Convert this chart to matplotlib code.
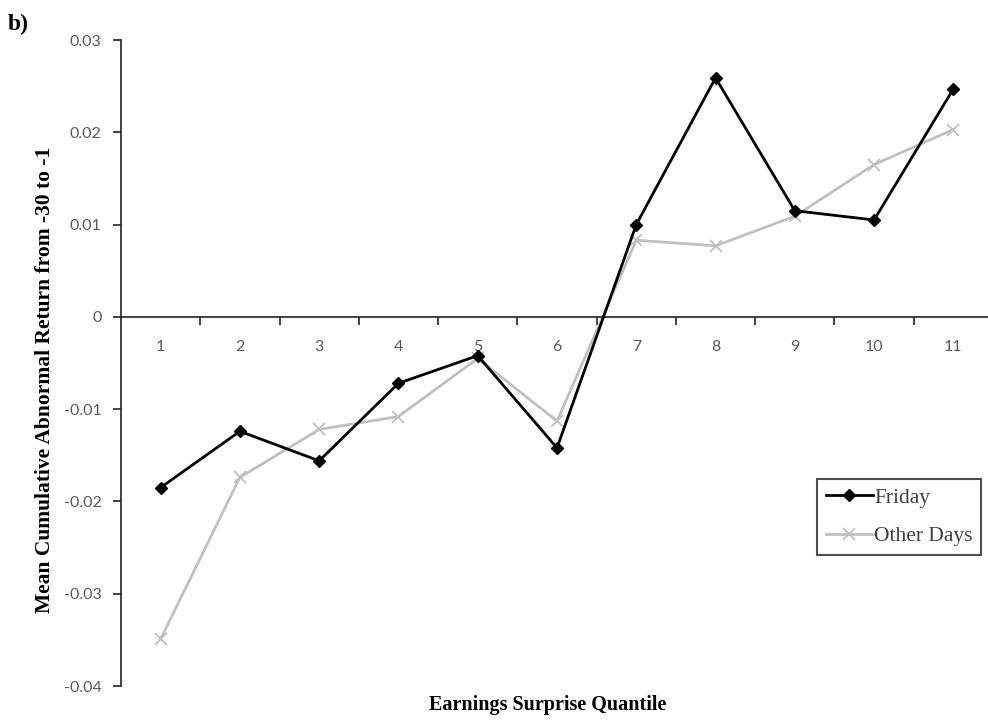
import matplotlib
matplotlib.use("Agg")
import matplotlib.pyplot as plt
from matplotlib.ticker import FixedLocator, NullFormatter, FixedFormatter

quantiles = [1, 2, 3, 4, 5, 6, 7, 8, 9, 10, 11]
friday = [-0.0185, -0.0124, -0.0156, -0.0072, -0.0042, -0.0142, 0.0100, 0.0259, 0.0115, 0.0105, 0.0247]
other_days = [-0.0349, -0.0174, -0.0122, -0.0108, -0.0045, -0.0113, 0.0083, 0.0077, 0.0109, 0.0165, 0.0203]
yticks = [-0.04, -0.03, -0.02, -0.01, 0, 0.01, 0.02, 0.03]
ytick_labels = ["-0.04", "-0.03", "-0.02", "-0.01", "0", "0.01", "0.02", "0.03"]

W, H = 988, 722
fig = plt.figure(figsize=(W / 100, H / 100), dpi=100)
ax = fig.add_axes([121 / W, (H - 686) / H, 872 / W, 646 / H])

ax.plot(quantiles, friday, color="black", lw=2.0, marker="D", ms=6,
        mfc="black", mec="black", label="Friday", zorder=3)
ax.plot(quantiles, other_days, color="#c0c0c0", lw=2.0, marker="x", ms=8,
        mew=1.3, label="Other Days", zorder=2)

ax.set_xlim(0.5, 11.5)
ax.set_ylim(-0.04, 0.03)

for s in ["top", "right"]:
    ax.spines[s].set_visible(False)
ax.spines["bottom"].set_position(("data", 0))
ax.spines["bottom"].set_color("#222222")
ax.spines["left"].set_color("#222222")
ax.spines["bottom"].set_linewidth(1.2)
ax.spines["left"].set_linewidth(1.2)

ax.xaxis.set_major_locator(FixedLocator([q + 0.5 for q in quantiles[:-1]]))
ax.xaxis.set_major_formatter(NullFormatter())
ax.xaxis.set_minor_locator(FixedLocator(quantiles))
ax.xaxis.set_minor_formatter(FixedFormatter([str(q) for q in quantiles]))
ax.tick_params(axis="x", which="major", direction="out", length=6, width=1.2, color="#222222")
ax.tick_params(axis="x", which="minor", length=0, pad=17, labelsize=11.5, labelcolor="#595959")

ax.set_yticks(yticks)
ax.set_yticklabels(ytick_labels)
ax.tick_params(axis="y", direction="out", length=6, width=1.2, color="#222222",
               pad=8, labelsize=11.5, labelcolor="#595959")
for lab in ax.get_xticklabels(minor=True) + ax.get_yticklabels():
    lab.set_fontfamily("Lato")

fig.text(45 / W, 1 - 380 / H, "Mean Cumulative Abnormal Return from -30 to -1",
         rotation=90, ha="center", va="center", fontsize=15.5, fontweight="bold",
         family="Liberation Serif")
fig.text(548 / W, 1 - 705 / H, "Earnings Surprise Quantile", ha="center", va="center",
         fontsize=14.5, fontweight="bold", family="Liberation Serif")
fig.text(8 / W, 1 - 24 / H, "b)", ha="left", va="center", fontsize=17,
         fontweight="bold", family="Liberation Serif")

leg = ax.legend(loc="upper left", bbox_to_anchor=(817 / W, 1 - 479 / H),
                bbox_transform=fig.transFigure, frameon=True, fancybox=False,
                handlelength=2.2, handletextpad=0.05, borderpad=0.4, labelspacing=0.85,
                borderaxespad=0.0, prop={"family": "Liberation Serif", "size": 15.5})
leg.get_frame().set_edgecolor("#222222")
leg.get_frame().set_linewidth(1.5)
for t in leg.get_texts():
    t.set_color("#404040")

fig.savefig("out.png", dpi=100)
